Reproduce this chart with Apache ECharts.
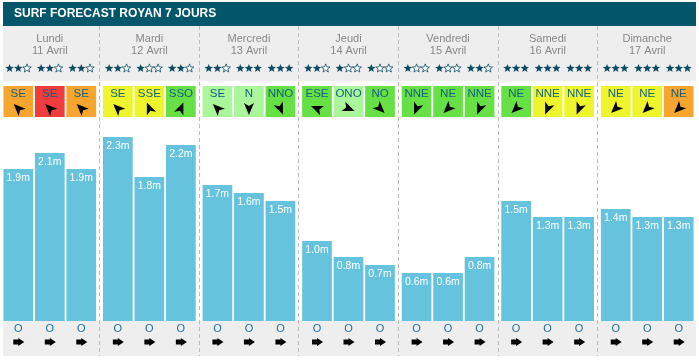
<!DOCTYPE html>
<html><head><meta charset="utf-8">
<script src="https://cdn.jsdelivr.net/npm/echarts@6/dist/echarts.min.js"></script>
<style>html,body{margin:0;padding:0;background:#fff}#c{width:699px;height:361px}</style>
</head><body><div id="c"></div>
<script>
// ---------- data ----------
const chartTitle = 'SURF FORECAST ROYAN 7 JOURS';
const days = ['Lundi','Mardi','Mercredi','Jeudi','Vendredi','Samedi','Dimanche'];
const dates = ['11 Avril','12 Avril','13 Avril','14 Avril','15 Avril','16 Avril','17 Avril'];
const slots = ['Matin','Midi','Soir'];
const waveMatin = [1.9, 2.3, 1.7, 1.0, 0.6, 1.5, 1.4];
const waveMidi  = [2.1, 1.8, 1.6, 0.8, 0.6, 1.3, 1.3];
const waveSoir  = [1.9, 2.2, 1.5, 0.7, 0.8, 1.3, 1.3];
const starsMatin = [2, 2, 2, 2, 1, 3, 3];
const starsMidi  = [2, 1, 3, 1, 1, 3, 3];
const starsSoir  = [2, 2, 3, 1, 2, 3, 3];
const windMatin = ['SE','SE','SE','ESE','NNE','NE','NE'];
const windMidi  = ['SE','SSE','N','ONO','NE','NNE','NE'];
const windSoir  = ['SE','SSO','NNO','NO','NNE','NNE','NE'];
// wind quality: 0 green, 1 light green, 2 yellow, 3 orange, 4 red
const windLevelMatin = [3, 2, 1, 0, 0, 0, 2];
const windLevelMidi  = [4, 2, 1, 1, 0, 2, 2];
const windLevelSoir  = [3, 0, 0, 0, 0, 2, 3];
const swellMatin = ['O','O','O','O','O','O','O'];
const swellMidi  = ['O','O','O','O','O','O','O'];
const swellSoir  = ['O','O','O','O','O','O','O'];

// ---------- style ----------
const BAR_COLOR = '#66c3de';
const WIND_COLORS = ['#66e044', '#aaf79b', '#eef52c', '#f6a62e', '#f03c3c'];
const STAR_COLOR = '#0d4b62';
const BW = 29.7, GAP = 1.8, PITCH = BW + GAP;
const STAR_R = 4.5, STAR_PITCH = 8.7;
const compass = {N:0,NNE:22.5,NE:45,ENE:67.5,E:90,ESE:112.5,SE:135,SSE:157.5,S:180,SSO:202.5,SO:225,OSO:247.5,O:270,ONO:292.5,NO:315,NNO:337.5};

const waves = [waveMatin, waveMidi, waveSoir];
const starsAll = [starsMatin, starsMidi, starsSoir];
const winds = [windMatin, windMidi, windSoir];
const windLevels = [windLevelMatin, windLevelMidi, windLevelSoir];
const swells = [swellMatin, swellMidi, swellSoir];

const slotData = [];
slots.forEach((s, si) => days.forEach((d, di) => slotData.push([di, si])));

function rot(deg) { return -deg * Math.PI / 180; }
function starShape(R) {
  const pts = [];
  for (let i = 0; i < 10; i++) {
    const a = -Math.PI / 2 + i * Math.PI / 5;
    const rr = i % 2 ? R * 0.42 : R;
    pts.push([rr * Math.cos(a), rr * Math.sin(a) + 0.4]);
  }
  return pts;
}
const STAR_PTS = starShape(STAR_R);

const chart = echarts.init(document.getElementById('c'), null, {renderer: 'canvas'});
const option = {
  animation: false,
  backgroundColor: '#ffffff',
  textStyle: {fontFamily: '"Liberation Sans", Arial, sans-serif'},
  graphic: [
    {type: 'rect', z: -10, shape: {x: 3, y: 2, width: 693, height: 24}, style: {fill: '#04566b'}},
    {type: 'rect', z: -10, shape: {x: 3, y: 26, width: 693, height: 55}, style: {fill: '#eeeeee'}},
    {type: 'rect', z: -10, shape: {x: 3, y: 321, width: 693, height: 35}, style: {fill: '#eeeeee'}},
    {type: 'text', z: 5, x: 14, y: 14, style: {text: chartTitle, fill: '#ffffff', fontSize: 12, fontWeight: 'bold',
      fontFamily: '"Liberation Sans", Arial, sans-serif', verticalAlign: 'middle', align: 'left'}}
  ],
  grid: [
    {left: -1, right: 2, top: 81, bottom: 40},
    {left: -1, right: 2, top: 26, bottom: 5}
  ],
  xAxis: [
    {type: 'category', gridIndex: 0, data: days, show: false},
    {type: 'category', gridIndex: 1, data: days, position: 'top',
      axisLine: {show: false}, axisTick: {show: false},
      axisLabel: {inside: true, margin: 6.5, interval: 0, color: '#888888', fontSize: 11, lineHeight: 12,
        formatter: (v, i) => v + '\n' + dates[i]},
      splitLine: {show: true, interval: 0, showMinLine: false, showMaxLine: false,
        lineStyle: {color: '#bbbbbb', type: [4, 3], width: 1}}}
  ],
  yAxis: [
    {type: 'value', gridIndex: 0, min: 0, max: 3, show: false},
    {type: 'value', gridIndex: 1, min: 0, max: 1, show: false}
  ],
  series: [
    ...slots.map((s, si) => ({
      name: s, type: 'bar', xAxisIndex: 0, yAxisIndex: 0,
      data: waves[si], barWidth: BW, barGap: (GAP / BW * 100) + '%',
      itemStyle: {color: BAR_COLOR},
      label: {show: true, position: 'insideTop', distance: 4, color: '#ffffff', fontSize: 10.5,
        formatter: p => p.value.toFixed(1) + 'm'},
      silent: true
    })),
    {
      type: 'custom', xAxisIndex: 0, yAxisIndex: 0, clip: false, silent: true, z: 3,
      data: slotData,
      encode: {x: 0, y: -1},
      renderItem: function (params, api) {
        const d = api.value(0), s = api.value(1);
        const cx = api.coord([d, 0])[0] + (s - 1) * PITCH;
        const st = starsAll[s][d];
        const dir = winds[s][d];
        const sw = swells[s][d];
        const starEls = [0, 1, 2].map(k => ({
          type: 'polygon', x: cx + (k - 1) * STAR_PITCH, y: 68,
          shape: {points: STAR_PTS},
          style: k < st ? {fill: STAR_COLOR} : {fill: '#ffffff', stroke: STAR_COLOR, lineWidth: 0.8}
        }));
        return {type: 'group', children: starEls.concat([
          {type: 'rect', shape: {x: cx - BW / 2, y: 86, width: BW, height: 31}, style: {fill: WIND_COLORS[windLevels[s][d]]}},
          {type: 'text', x: cx, y: 94, style: {text: dir, fill: '#15607f', fontSize: 11.5,
            fontFamily: '"Liberation Sans", Arial, sans-serif', align: 'center', verticalAlign: 'middle'}},
          {type: 'polygon', x: cx, y: 108.5, rotation: rot((compass[dir] + 180) % 360),
            shape: {points: [[0, -6.5], [5, 5.5], [0, 2.5], [-5, 5.5]]}, style: {fill: '#000000'}},
          {type: 'text', x: cx, y: 329, style: {text: sw, fill: '#1f6fa3', fontSize: 11,
            fontFamily: '"Liberation Sans", Arial, sans-serif', align: 'center', verticalAlign: 'middle'}},
          {type: 'polygon', x: cx, y: 342, rotation: rot((compass[sw] + 180) % 360),
            shape: {points: [[0, -6], [4, 0], [2.6, 0], [2.6, 5], [-2.6, 5], [-2.6, 0], [-4, 0]]},
            style: {fill: '#000000'}}
        ])};
      }
    }
  ]
};
chart.setOption(option);
</script>
</body></html>
